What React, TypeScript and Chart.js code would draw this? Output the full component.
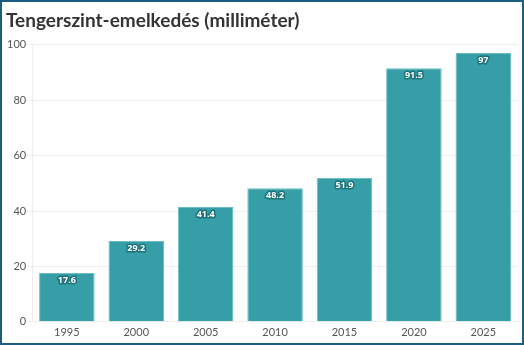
import React, { useEffect, useRef } from "react";
import { Chart, registerables } from "chart.js";

Chart.register(...registerables);

const categories = ["1995", "2000", "2005", "2010", "2015", "2020", "2025"];
const values = [17.6, 29.2, 41.4, 48.2, 51.9, 91.5, 97];
const yTicks = [0, 20, 40, 60, 80, 100];

const labelPlugin = {
  id: "barLabels",
  afterDatasetsDraw(chart: any) {
    const ctx = chart.ctx;
    const meta = chart.getDatasetMeta(0);
    ctx.save();
    ctx.font = "bold 9px 'Open Sans'";
    ctx.textAlign = "center";
    ctx.textBaseline = "middle";
    ctx.lineJoin = "round";
    meta.data.forEach((bar: any, i: number) => {
      const txt = String(values[i]);
      const x = bar.x;
      const y = bar.y + 7.5;
      ctx.lineWidth = 3;
      ctx.strokeStyle = "#1d7279";
      ctx.strokeText(txt, x, y);
      ctx.fillStyle = "#ffffff";
      ctx.fillText(txt, x, y);
    });
    ctx.restore();
  },
};

export default function App() {
  const ref = useRef<HTMLCanvasElement>(null);
  useEffect(() => {
    const chart = new Chart(ref.current!, {
      type: "bar",
      data: {
        labels: categories,
        datasets: [
          {
            data: values,
            backgroundColor: "#359ea7",
            borderColor: "#6cbcc2",
            borderWidth: 1,
            categoryPercentage: 1,
            barPercentage: 0.8,
          },
        ],
      },
      options: {
        animation: false,
        responsive: false,
        maintainAspectRatio: false,
        layout: { padding: { left: 4, right: 4, top: 0, bottom: 0 } },
        plugins: {
          legend: { display: false },
          tooltip: { enabled: false },
          title: {
            display: true,
            text: "Tengerszint-emelkedés (milliméter)",
            align: "start",
            color: "#333333",
            font: { family: "Lato", size: 19, weight: "bold" },
            padding: { top: 7, bottom: 13 },
          },
        },
        scales: {
          x: {
            grid: { display: false, drawTicks: false },
            border: { color: "#eeeeee" },
            ticks: {
              color: "#555555",
              font: { family: "Lato", size: 11 },
              padding: 4,
            },
          },
          y: {
            min: 0,
            max: 100,
            afterBuildTicks: (axis: any) => {
              axis.ticks = yTicks.map((v) => ({ value: v }));
            },
            grid: { color: "#eeeeee", tickLength: 5 },
            border: { color: "#eeeeee" },
            ticks: {
              color: "#555555",
              font: { family: "Lato", size: 11 },
              padding: 1,
            },
          },
        },
      },
      plugins: [labelPlugin],
    });
    return () => chart.destroy();
  }, []);
  return (
    <div
      style={{
        position: "fixed",
        left: 0,
        top: 0,
        width: 520,
        height: 341,
        border: "2px solid #1b5e80",
        background: "#ffffff",
      }}
    >
      <canvas
        ref={ref}
        width={520}
        height={341}
        style={{ position: "absolute", left: 0, top: 0 }}
      />
    </div>
  );
}
